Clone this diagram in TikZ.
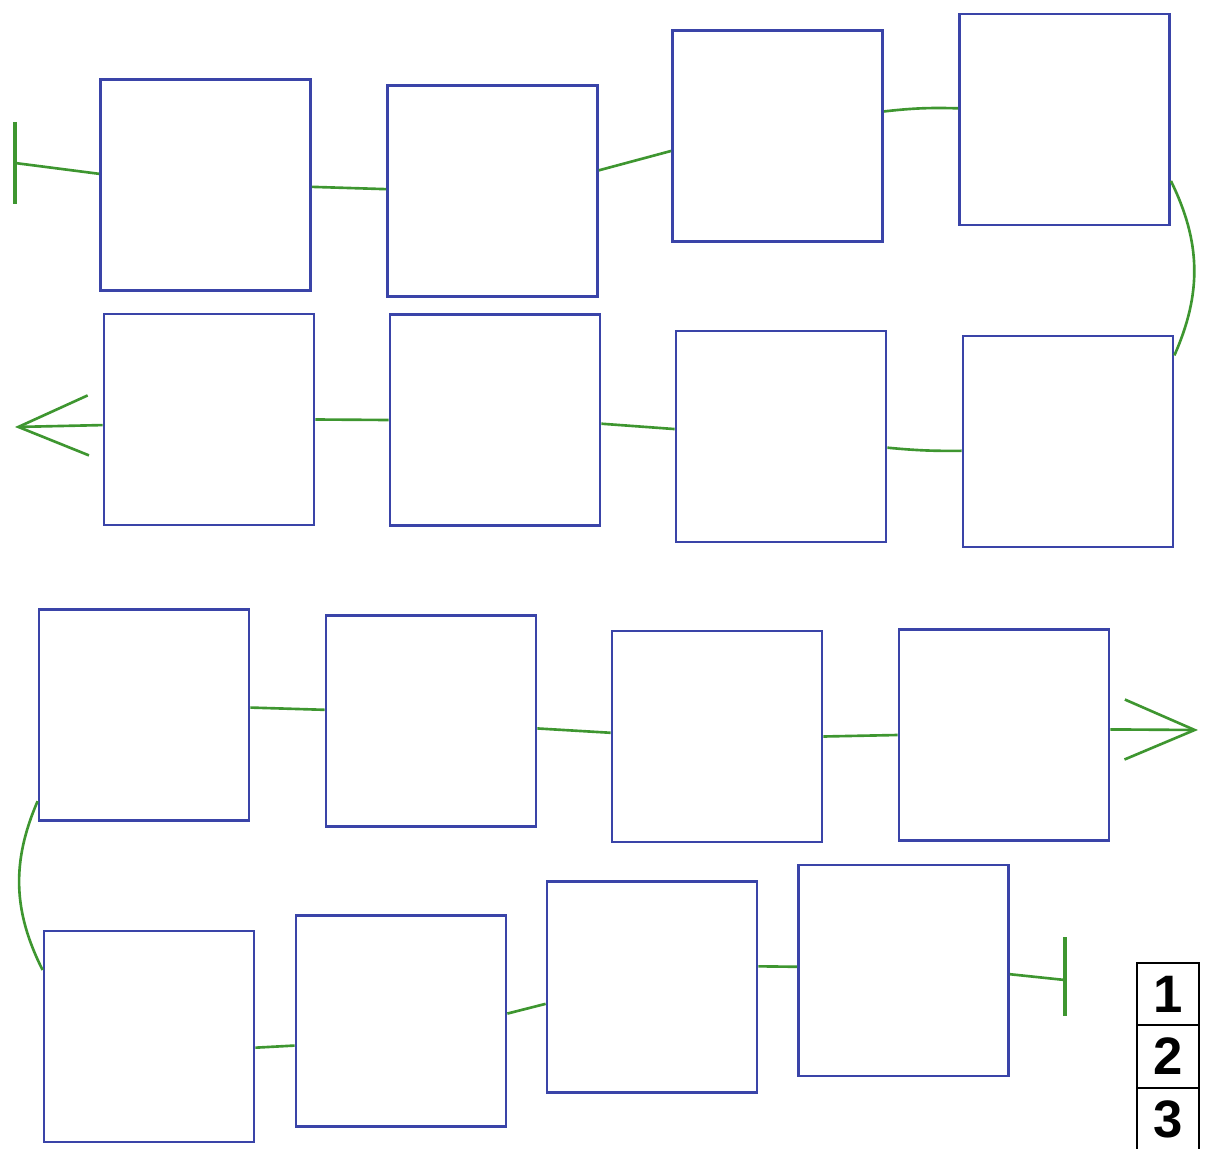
\documentclass[tikz,border=0pt]{standalone}
\usepackage{fontspec}
\setsansfont{Liberation Sans}
\usetikzlibrary{arrows.meta}
\definecolor{bleu}{RGB}{58,68,168}
\definecolor{vert}{RGB}{62,150,48}

\begin{document}
\begin{tikzpicture}[
    x=0.02cm, y=-0.02cm,
    case/.style={draw=bleu, line width=1.6pt, minimum width=4.2cm, minimum height=4.22cm, inner sep=0pt},
    lien/.style={draw=vert, line width=1.5pt},
    barre/.style={draw=vert, line width=2.8pt},
    fleche/.style={lien, -{Straight Barb[length=1.4cm, width=1.2cm]}},
    num/.style={draw=black, line width=1.2pt, minimum width=1.24cm, minimum height=1.25cm, inner sep=0pt, font=\sffamily\bfseries\fontsize{30}{30}\selectfont},
  ]
  \useasboundingbox (0,0) rectangle (1207,1149);
  % premier serpent
  \node[case] (A1) at (205.5,185) {};
  \node[case] (A2) at (492.5,191) {};
  \node[case] (A3) at (777.5,136) {};
  \node[case] (A4) at (1064.5,119.5) {};
  \node[case] (B1) at (209,419.5) {};
  \node[case] (B2) at (495,420) {};
  \node[case] (B3) at (781,436.5) {};
  \node[case] (B4) at (1068,441.5) {};
  \coordinate (debH) at (15,122);
  \coordinate (debB) at (15,204);
  \coordinate (deb) at (15,163);
  \coordinate (sortie1) at (15,427);
  \draw[barre] (debH) -- (debB);
  \draw[lien] (deb) -- (A1.174);
  \draw[lien] (A1.-1) -- (A2.179);
  \draw[lien] (A2.11) -- (A3.188);
  \draw[lien] (A3.13) to[bend left=4] (A4.174);
  \draw[lien] (A4.-30) to[bend left=25] (B4.39);
  \draw[lien] (B4.185) to[bend left=3] (B3.-6);
  \draw[lien] (B3.176) -- (B2.-2);
  \draw[lien] (B2.west) -- (B1.east);
  \draw[fleche] (B1.183) -- (sortie1);
  % second serpent
  \node[case] (C1) at (144,715) {};
  \node[case] (C2) at (431,721) {};
  \node[case] (C3) at (717,736.5) {};
  \node[case] (C4) at (1004,735) {};
  \node[case] (D1) at (149,1036.5) {};
  \node[case] (D2) at (401,1021) {};
  \node[case] (D3) at (652,987) {};
  \node[case] (D4) at (903.5,970.5) {};
  \coordinate (sortie2) at (1198,730);
  \coordinate (finH) at (1065,937);
  \coordinate (finB) at (1065,1016);
  \coordinate (fin) at (1065,980);
  \draw[lien] (C1.4) -- (C2.174);
  \draw[lien] (C2.-4) -- (C3.178);
  \draw[lien] (C3.east) -- (C4.west);
  \draw[fleche] (C4.3) -- (sortie2);
  \draw[lien] (C1.219) to[bend right=25] (D1.148);
  \draw[lien] (D1.-6) -- (D2.193);
  \draw[lien] (D2.4) -- (D3.189);
  \draw[lien] (D3.11) -- (D4.178);
  \draw[lien] (D4.-2) -- (fin);
  \draw[barre] (finH) -- (finB);
  % petit tableau
  \node[num] (n1) at (1168,994) {1};
  \node[num] (n2) at (1168,1056.5) {2};
  \node[num] (n3) at (1168,1119) {3};
\end{tikzpicture}
\end{document}
